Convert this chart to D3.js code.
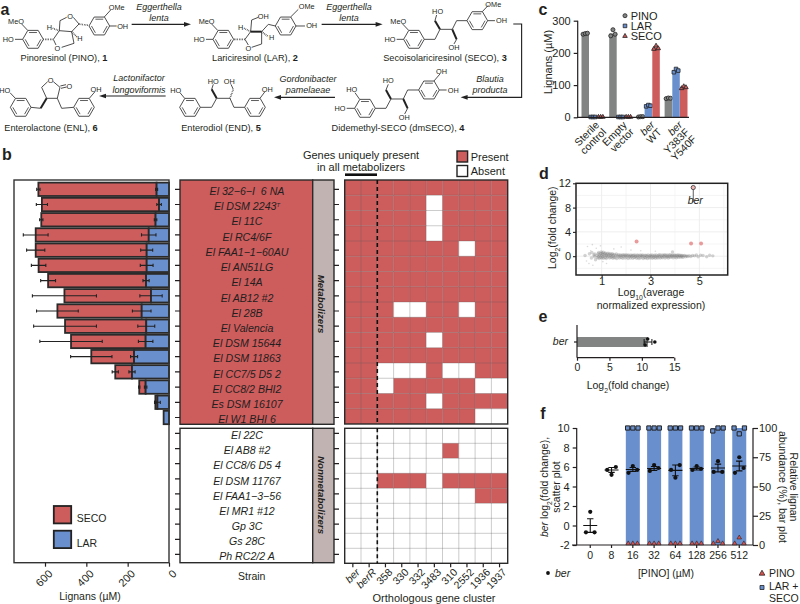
<!DOCTYPE html>
<html>
<head>
<meta charset="utf-8">
<script src="https://cdn.jsdelivr.net/npm/d3@7/dist/d3.min.js"></script>
<style>
  html, body { margin: 0; padding: 0; background: #fff; }
  svg { display: block; }
  text { font-family: "Liberation Sans", Arial, sans-serif; fill: #231f20; }
</style>
</head>
<body>
<div id="container"></div>
<script>
// panel b
const metaStrains = ["El 32−6−I  6 NA", "El DSM 2243", "El 11C", "El RC4/6F", "El FAA1−1−60AU", "El AN51LG", "El 14A", "El AB12 #2", "El 28B", "El Valencia", "El DSM 15644", "El DSM 11863", "El CC7/5 D5 2", "El CC8/2 BHI2", "Es DSM 16107", "El W1 BHI 6"];
const nonStrains = ["El 22C", "El AB8 #2", "El CC8/6 D5 4", "El DSM 11767", "El FAA1−3−56", "El MR1 #12", "Gp 3C", "Gs 28C", "Ph RC2/2 A"];
const larValues = [60, 48, 65, 98, 108, 108, 111, 87, 132, 110, 113, 169, 179, 113, 56, 26];
const secoValues = [572, 567, 553, 547, 537, 523, 474, 419, 408, 393, 361, 207, 81, 31, 10, 0];
const larErr = [5, 11, 6, 35, 29, 31, 15, 54, 45, 41, 35, 17, 15, 6, 14, 0];
const secoErr = [8, 27, 8, 60, 44, 35, 36, 155, 101, 152, 151, 100, 15, 3, 3, 0];
const clusters = ["ber", "berR", "358", "330", "332", "3483", "310", "2552", "1936", "1937"];
// one string per strain, 1 = present
const metaMatrix = ["1111111111", "1111101111", "1111101111", "1111101111", "1111111011", "1111111111", "1111111111", "1111111111", "1110011011", "1111111111", "1111101111", "1111111111", "1100010011", "1101111100", "1111101111", "1111111100"];
const nonMatrix = ["0000000000", "0000001000", "0000000000", "0011101111", "0000000011", "0000000000", "0000000000", "0000000000", "0000000000"];
const barTicks = [0, 200, 400, 600];

// panel c
const cGroups = [["Sterile", "control"], ["Empty", "vector"], ["ber", "WT"], ["ber", "Y383F", "Y540F"]];
const cSeries = ["PINO", "LAR", "SECO"];
const cPino = [259, 260, 2, 59];
const cLar = [1, 1, 36, 145];
const cSeco = [1, 1, 216, 92];
const cPinoPts = [[258, 260, 261], [253, 272, 258], [1, 2, 2], [58, 60, 59]];
const cLarPts = [[1, 1, 1], [1, 1, 1], [34, 38, 36], [140, 150, 145]];
const cSecoPts = [[1, 1, 1], [1, 1, 1], [212, 222, 214], [90, 96, 93]];

// panel d, log10 expression and log2 fold change per gene
const maPoints = [[0.32, 0.1], [0.38, -0.8], [0.42, 1.6], [0.48, -1.2], [0.5, 0.4], [0.55, 0.9], [0.58, -0.3], [0.62, 1.9], [0.64, -1.5], [0.68, 0.2], [0.7, -0.1], [0.72, 0.35], [0.75, -0.6], [0.78, 1.3], [0.8, 0.1], [0.82, -0.25],
  [0.85, 0.4], [0.86, -0.1], [0.88, 0.6], [0.9, -0.4], [0.91, 0.2], [0.93, 0.05], [0.95, -0.2], [0.96, 0.45], [0.98, 0.7], [1, -0.3], [1.01, 0.15], [1.02, 0.5], [1.04, -0.1], [1.05, 0.3], [1.07, 0.65], [1.08, -0.35],
  [1.1, 0.05], [1.12, 0.4], [1.14, -0.2], [1.15, 0.55], [1.17, 0.2], [1.19, -0.4], [1.2, 0.1], [1.22, 0.35], [1.24, -0.15], [1.26, 0.5], [1.28, 0], [1.3, 0.25], [1.32, -0.3], [1.34, 0.45], [1.36, 0.1], [1.38, -0.2],
  [1.4, 0.3], [1.42, -0.05], [1.44, 0.4], [1.46, -0.35], [1.48, 0.15], [1.5, -0.15], [1.52, 0.3], [1.55, -0.25], [1.57, 0.05], [1.6, 0.35], [1.62, -0.4], [1.65, 0.1], [1.68, -0.1], [1.7, 0.25], [1.73, -0.3], [1.76, 0.05],
  [1.78, 0.2], [1.8, -0.2], [1.83, 0.1], [1.86, -0.35], [1.88, 0.25], [1.9, -0.05], [1.93, 0.15], [1.96, -0.3], [1.98, 0.05], [2, 0.25], [2.03, -0.15], [2.06, 0.1], [2.08, -0.4], [2.1, 0.2], [2.13, -0.1], [2.16, 0.05],
  [2.18, -0.3], [2.2, 0.2], [2.23, -0.05], [2.26, 0.1], [2.28, -0.35], [2.3, 0.15], [2.33, -0.2], [2.36, 0.2], [2.38, -0.1], [2.4, 0.05], [2.43, -0.35], [2.46, 0.2], [2.48, -0.15], [2.5, 0.1], [2.53, -0.4], [2.56, 0],
  [2.58, 0.2], [2.6, -0.25], [2.63, 0.1], [2.66, -0.1], [2.68, 0.2], [2.7, -0.4], [2.73, 0.05], [2.76, -0.2], [2.78, 0.15], [2.8, -0.3], [2.83, 0.1], [2.86, -0.05], [2.88, -0.4], [2.9, 0.2], [2.93, -0.15], [2.96, 0.05],
  [2.98, -0.3], [3, 0.15], [3.03, -0.1], [3.06, 0.2], [3.08, -0.35], [3.1, 0.05], [3.13, -0.2], [3.16, 0.15], [3.18, -0.05], [3.2, -0.35], [3.23, 0.2], [3.26, -0.15], [3.28, 0.05], [3.3, -0.3], [3.33, 0.15], [3.36, -0.1],
  [3.38, 0.25], [3.4, -0.3], [3.43, 0.05], [3.46, -0.15], [3.48, 0.2], [3.5, -0.25], [3.53, 0.1], [3.56, -0.05], [3.58, 0.25], [3.6, -0.3], [3.63, 0.1], [3.66, -0.15], [3.68, 0.2], [3.7, -0.05], [3.73, -0.3], [3.76, 0.15],
  [3.78, -0.1], [3.8, 0.25], [3.83, -0.2], [3.86, 0.1], [3.88, -0.05], [3.9, 0.2], [3.93, -0.25], [3.96, 0.05], [3.98, 0.2], [4, -0.15], [4.03, 0.1], [4.06, -0.25], [4.08, 0.15], [4.1, -0.05], [4.13, 0.2], [4.16, -0.2],
  [4.18, 0.05], [4.2, 0.15], [4.23, -0.15], [4.26, 0.1], [4.28, -0.1], [4.3, 0.1], [4.33, -0.2], [4.36, 0.05], [4.4, 0.1], [4.44, -0.1], [4.48, 0.05], [4.52, -0.05], [4.58, 0.08], [4.65, -0.05], [4.72, 0.1], [4.8, 0.05],
  [4.88, 0.2], [4.95, -0.1], [5.05, 0.15], [5.15, 0.1], [5.3, -0.1], [5.42, 0.15], [5.55, 0.05], [1.5, 1.2], [1.8, 1.5], [2.2, 1], [0.95, 1.7], [1.2, -1.2], [0.6, 0.6], [2.6, 0.9], [3.2, 0.8], [3.9, 0.7], [1.05, -0.9]];
const maHits = [[2.43, 2.4], [4.66, 2.1], [5.07, 2.1]];
const maBer = [4.75, 11.3];

// panel e
const eMean = 10.95;
const eErr = 0.6;
const ePts = [10.5, 10.9, 12];

// panel f
const fConc = [0, 8, 16, 32, 64, 128, 256, 512];
const fMean = [0, 5.7, 5.75, 5.85, 5.65, 5.85, 5.9, 6.1];
const fErr = [0.7, 0.25, 0.2, 0.2, 0.55, 0.15, 0.4, 0.5];
const fBer = [[-0.7, 1.4, -0.7], [5.7, 5.2, 6], [5.4, 6.1, 5.7], [5.6, 6.2, 5.9], [5.7, 4.9, 6.2], [5.7, 6.1, 5.8], [5.5, 6.6, 5.5], [5.4, 7, 5.9]];
const fBar = [null, null, 100, 100, 100, 100, 100, 100];
const fLarSeco = [null, null, [100, 100, 100], [100, 100, 100], [100, 100, 100], [100, 100, 100], [97.5, 100, 100], [100, 95, 100]];
const fPinoPts = [null, null, [0, 0, 0], [0, 0, 0], [0, 0, 0], [0, 0, 0], [0, 2, 0], [0, 5, 0]];

const red = "#cd5c5c";
const blue = "#6a8fcd";
const gray = "#828483";
const ink = "#231f20";

const viz = d3.select("#container").append("svg")
  .attr("width", 800)
  .attr("height", 604);

// text helper, pieces can be plain strings or {t, i, b, sub, sup}
function label(parent, x, y, pieces, opt) {
  opt = opt || {};
  const t = parent.append("text")
    .attr("x", x)
    .attr("y", y)
    .attr("dy", "0.35em")
    .attr("text-anchor", opt.anchor || "middle")
    .style("font-size", (opt.size || 11) + "px")
    .attr("xml:space", "preserve");
  if (opt.rotate !== undefined) t.attr("transform", "rotate(" + opt.rotate + " " + x + " " + y + ")");
  if (opt.bold) t.style("font-weight", "bold");
  if (opt.italic) t.style("font-style", "italic");
  [].concat(pieces).forEach(function(p) {
    if (typeof p === "string") p = {t: p};
    const s = t.append("tspan").text(p.t);
    if (p.i) s.style("font-style", "italic");
    if (p.b) s.style("font-weight", "bold");
    if (p.sub) s.attr("baseline-shift", "sub").style("font-size", "65%");
    if (p.sup) s.attr("baseline-shift", "super").style("font-size", "55%");
  });
  return t;
}

function styleAxis(g, width, size) {
  g.selectAll(".domain").attr("stroke", ink).attr("stroke-width", width);
  g.selectAll(".tick line").attr("stroke", ink).attr("stroke-width", width);
  g.selectAll(".tick text").style("font-size", (size || 11) + "px").attr("fill", ink);
}

function slant(g, dx, dy) {
  g.selectAll(".tick text")
    .attr("x", 0).attr("y", 0).attr("dy", "0.35em")
    .attr("text-anchor", "end")
    .attr("transform", "translate(" + dx + "," + dy + ") rotate(-45)");
}

// panel letters
[["a", 5, 9], ["b", 7, 154], ["c", 543, 9], ["d", 544, 173], ["e", 543, 316], ["f", 543, 413]].forEach(function(d) {
  label(viz, d[1], d[2], d[0], {size: 16, bold: true});
});

/* ---------- panel a ---------- */
// drawn in crop units, three times the page size
const chem = viz.append("g").attr("class", "chem").attr("transform", "scale(0.3333)");

const rings = [[99, 118], [298, 78], [670, 118], [857, 78], [1242, 118], [1432, 62], [1095, 325], [1287, 270], [570, 322], [765, 322], [62, 322], [252, 322]];
const plainBonds = [
  [[83, 91], [65, 72]], [[68, 118], [45, 118]], [[313, 51], [332, 30]], [[329, 78], [350, 78]],
  [[160, 118], [178, 92], [215, 95], [222, 130], [185, 142]], [[160, 118], [168, 135]], [[178, 92], [180, 62], [200, 52]], [[220, 52], [237, 72], [215, 95]],
  [[653, 91], [635, 72]], [[639, 118], [618, 118]], [[872, 51], [895, 28]], [[888, 78], [915, 78]], [[826, 78], [805, 73], [785, 95], [785, 132], [755, 142]], [[735, 118], [745, 135]], [[735, 118], [752, 95], [755, 60], [775, 52]],
  [[1226, 91], [1208, 72]], [[1211, 118], [1190, 118]], [[1273, 118], [1305, 118], [1320, 88], [1357, 88]], [[1305, 62], [1310, 45]], [[1401, 62], [1370, 62], [1357, 88]], [[1370, 118], [1362, 132]], [[1447, 35], [1465, 16]], [[1463, 62], [1485, 62]],
  [[1079, 298], [1065, 278]], [[1064, 325], [1040, 325]], [[1126, 325], [1158, 325], [1173, 297], [1210, 297], [1223, 270], [1256, 270]], [[1158, 270], [1165, 253]], [[1223, 325], [1214, 342]], [[1302, 243], [1320, 222]], [[1318, 270], [1340, 270]],
  [[554, 295], [540, 278]], [[601, 322], [635, 322], [650, 295], [690, 295], [702, 322], [734, 322]], [[635, 268], [640, 253]], [[700, 268], [693, 253]], [[780, 295], [795, 275]],
  [[46, 295], [30, 278]], [[93, 322], [122, 325]], [[140, 295], [125, 262], [143, 245]], [[160, 245], [180, 262], [172, 295], [140, 295]], [[172, 295], [185, 325], [221, 322]], [[181, 258], [198, 254]], [[183, 265], [200, 261]], [[268, 295], [285, 275]]
];
const boldBonds = [[[752, 95], [785, 95]], [[1320, 88], [1305, 62]], [[1357, 88], [1370, 118]], [[1173, 297], [1158, 270]], [[1210, 297], [1223, 325]], [[650, 295], [635, 268]], [[122, 325], [140, 295]]];
const hashBonds = [[[130, 118], [160, 118]], [[237, 72], [265, 76]], [[158, 85], [178, 92]], [[215, 95], [232, 112]], [[702, 118], [735, 118]], [[732, 85], [752, 95]], [[785, 95], [805, 110]], [[690, 295], [700, 268]]];
const atomLabels = [
  ["MeO", 48, 63], ["HO", 25, 118], ["OMe", 350, 22], ["OH", 368, 78], ["O", 210, 50], ["O", 172, 145], ["H", 148, 83], ["H", 240, 115],
  ["MeO", 620, 63], ["HO", 598, 118], ["OH", 790, 50], ["OMe", 920, 20], ["OH", 935, 75], ["O", 745, 145], ["H", 722, 83], ["H", 815, 112],
  ["MeO", 1195, 63], ["HO", 1170, 118], ["HO", 1313, 35], ["OH", 1362, 142], ["OMe", 1480, 13], ["OH", 1505, 62],
  ["HO", 1055, 268], ["HO", 1020, 325], ["HO", 1165, 242], ["OH", 1213, 352], ["OH", 1325, 213], ["OH", 1360, 270],
  ["HO", 527, 270], ["HO", 640, 243], ["OH", 688, 243], ["OH", 802, 268],
  ["HO", 14, 270], ["O", 152, 240], ["O", 208, 258], ["OH", 288, 268]
];
const compounds = [
  [64, 58, "Pinoresinol (PINO), ", "1"], [255, 58, "Lariciresinol (LAR), ", "2"], [445, 58, "Secoisolariciresinol (SECO), ", "3"],
  [398, 127.5, "Didemethyl-SECO (dmSECO), ", "4"], [221, 127.5, "Enterodiol (END), ", "5"], [51, 127.5, "Enterolactone (ENL), ", "6"]
];
const microbes = [
  [159, 7, 18, "Eggerthella", "lenta"], [349, 7, 18, "Eggerthella", "lenta"], [490, 79, 90, "Blautia", "producta"],
  [308, 79, 90, "Gordonibacter", "pamelaeae"], [139, 78, 90, "Lactonifactor", "longoviformis"]
];
const arrows = [
  [[395, 73], [555, 73]], [[965, 73], [1130, 73]],
  [[1540, 72], [1565, 72], [1565, 292], [1400, 292]], [[1005, 292], [840, 292]], [[497, 288], [315, 288]]
];

const chemLine = d3.line();
rings.forEach(function(c) {
  const pts = d3.range(6).map(function(i) {
    const a = i * Math.PI / 3;
    return [c[0] + 31 * Math.cos(a), c[1] + 31 * Math.sin(a)];
  });
  chem.append("path").attr("d", chemLine(pts) + "Z").attr("fill", "none").attr("stroke", "#333").attr("stroke-width", 2.6);
  [0, 2, 4].forEach(function(i) {
    const p = pts[i], q = pts[(i + 1) % 6];
    const inset = function(v) { return [c[0] + (v[0] - c[0]) * 0.76, c[1] + (v[1] - c[1]) * 0.76]; };
    chem.append("path").attr("d", chemLine([inset(p), inset(q)])).attr("stroke", "#333").attr("stroke-width", 2.4);
  });
});
plainBonds.forEach(function(b) {
  chem.append("path").attr("d", chemLine(b)).attr("fill", "none").attr("stroke", "#333").attr("stroke-width", 2.6);
});
boldBonds.forEach(function(b) {
  chem.append("path").attr("d", chemLine(b)).attr("fill", "none").attr("stroke", "#222").attr("stroke-width", 6);
});
hashBonds.forEach(function(b) {
  chem.append("path").attr("d", chemLine(b)).attr("fill", "none").attr("stroke", "#333").attr("stroke-width", 5).attr("stroke-dasharray", "2 3");
});
atomLabels.forEach(function(a) {
  label(chem, a[1], a[2], a[0], {size: 22});
});
arrows.forEach(function(a) {
  chem.append("path").attr("d", chemLine(a)).attr("fill", "none").attr("stroke", "#222").attr("stroke-width", 3.4);
  const p = a[a.length - 1], q = a[a.length - 2];
  const dir = p[0] > q[0] ? 1 : -1;
  chem.append("path").attr("d", chemLine([[p[0] + dir * 18, p[1]], [p[0] - dir * 3, p[1] - 7], [p[0] - dir * 3, p[1] + 7]]) + "Z").attr("fill", "#222");
});
compounds.forEach(function(c) {
  label(viz, c[0], c[1], [c[2], {t: c[3], b: true}], {size: 9.2});
});
microbes.forEach(function(m) {
  label(viz, m[0], m[1], m[3], {size: 9, italic: true});
  label(viz, m[0], m[2], m[4], {size: 9, italic: true});
});

/* ---------- panel b ---------- */
const barX = d3.scaleLinear().domain([0, 750]).range([169, 14]);
const metaY = d3.scalePoint().domain(metaStrains).range([181.7, 425.1]).padding(0.5);
const nonY = d3.scalePoint().domain(nonStrains).range([425.9, 562]).padding(0.5);
const heatMetaY = d3.scaleBand().domain(metaStrains).range([180, 424]);
const heatNonY = d3.scaleBand().domain(nonStrains).range([428.3, 563.3]);
const heatX = d3.scaleBand().domain(clusters).range([344.7, 507.7]);

const barG = viz.append("g").attr("class", "bars");
metaStrains.forEach(function(s, i) {
  const y = metaY(s);
  const lar = larValues[i], seco = secoValues[i];
  barG.append("rect").attr("x", barX(lar + seco)).attr("y", y - 6.7)
    .attr("width", barX(lar) - barX(lar + seco)).attr("height", 13.4)
    .attr("fill", red).attr("stroke", "#2a2a2a").attr("stroke-width", 1.8);
  barG.append("rect").attr("x", barX(lar)).attr("y", y - 6.7)
    .attr("width", barX(0) - barX(lar)).attr("height", 13.4)
    .attr("fill", blue).attr("stroke", "#2a2a2a").attr("stroke-width", 1.8);
  [[lar, larErr[i]], [lar + seco, secoErr[i]]].forEach(function(e) {
    if (e[1] === 0) return;
    const x0 = barX(e[0] + e[1]), x1 = barX(e[0] - e[1]);
    barG.append("path")
      .attr("d", "M" + x0 + "," + y + "H" + x1 + "M" + x0 + "," + (y - 1.6) + "V" + (y + 1.6) + "M" + x1 + "," + (y - 1.6) + "V" + (y + 1.6))
      .attr("fill", "none").attr("stroke", "#222").attr("stroke-width", 1.1);
  });
});
viz.append("rect").attr("x", 14).attr("y", 180).attr("width", 155).attr("height", 382.7)
  .attr("fill", "none").attr("stroke", "#333").attr("stroke-width", 1.4);
const barAxis = viz.append("g").attr("transform", "translate(0,562.7)")
  .call(d3.axisBottom(barX).tickValues(barTicks).tickSize(4).tickFormat(d3.format("d")));
barAxis.select(".domain").remove();
styleAxis(barAxis, 1.2);
slant(barAxis, 5, 9);
label(viz, 90, 596.5, "Lignans (µM)", {size: 10.5});
label(viz, 251.7, 576.7, "Strain", {size: 10.5});
label(viz, 434, 598, "Orthologous gene cluster", {size: 11});

// bar legend
[["SECO", red, 506, 518], ["LAR", blue, 530.7, 543.3]].forEach(function(d) {
  viz.append("rect").attr("x", 53.8).attr("y", d[2]).attr("width", 17.4).attr("height", 17.4)
    .attr("fill", d[1]).attr("stroke", "#222").attr("stroke-width", 1.8);
  label(viz, 76.7, d[3], d[0], {anchor: "start", size: 10.5});
});

// strain panels
function strainPanel(strains, yScale, top, bottom, fill, name, nameY) {
  const g = viz.append("g").attr("class", "strains");
  g.append("rect").attr("x", 180).attr("y", top).attr("width", 132.7).attr("height", bottom - top)
    .attr("fill", fill).attr("stroke", "#2a2a2a").attr("stroke-width", 1.4);
  g.append("rect").attr("x", 312.7).attr("y", top).attr("width", 21.3).attr("height", bottom - top)
    .attr("fill", "#c2b3b3").attr("stroke", "#2a2a2a").attr("stroke-width", 1.4);
  strains.forEach(function(s) {
    const y = yScale(s);
    g.append("path").attr("d", "M175," + y + "H180M334," + y + "H339").attr("stroke", ink).attr("stroke-width", 1.2);
    const pieces = s === "El DSM 2243" ? [s, {t: "T", sup: true}] : s;
    label(g, 247, y + 2, pieces, {size: 10.6, italic: true});
  });
  label(g, 321, nameY, name, {size: 9.7, bold: true, italic: true, rotate: 90});
}
strainPanel(metaStrains, metaY, 180, 424.3, red, "Metabolizers", 304);
strainPanel(nonStrains, nonY, 428.3, 562.7, "#fff", "Nonmetabolizers", 495);

// heatmaps
function heatmap(strains, matrix, yScale) {
  const g = viz.append("g").attr("class", "heat");
  strains.forEach(function(s, i) {
    clusters.forEach(function(c, j) {
      g.append("rect").attr("x", heatX(c)).attr("y", yScale(s))
        .attr("width", heatX.bandwidth()).attr("height", yScale.bandwidth())
        .attr("fill", matrix[i][j] === "1" ? red : "#fff");
    });
  });
  // grid goes over the tiles
  clusters.slice(1).forEach(function(c) {
    g.append("line").attr("x1", heatX(c)).attr("x2", heatX(c))
      .attr("y1", yScale.range()[0]).attr("y2", yScale.range()[1])
      .attr("stroke", "#555").attr("stroke-opacity", 0.3);
  });
  strains.slice(1).forEach(function(s) {
    g.append("line").attr("x1", heatX.range()[0]).attr("x2", heatX.range()[1])
      .attr("y1", yScale(s)).attr("y2", yScale(s))
      .attr("stroke", "#555").attr("stroke-opacity", 0.3);
  });
  g.append("rect").attr("x", heatX.range()[0]).attr("y", yScale.range()[0])
    .attr("width", heatX.range()[1] - heatX.range()[0]).attr("height", yScale.range()[1] - yScale.range()[0])
    .attr("fill", "none").attr("stroke", "#2a2a2a").attr("stroke-width", 1.4);
  g.append("line").attr("x1", heatX("358")).attr("x2", heatX("358"))
    .attr("y1", yScale.range()[0]).attr("y2", yScale.range()[1])
    .attr("stroke", "#111").attr("stroke-width", 1.6).attr("stroke-dasharray", "4 3");
}
heatmap(metaStrains, metaMatrix, heatMetaY);
heatmap(nonStrains, nonMatrix, heatNonY);

const heatAxis = viz.append("g").attr("transform", "translate(0,563.3)")
  .call(d3.axisBottom(heatX).tickSize(4));
heatAxis.select(".domain").remove();
styleAxis(heatAxis, 1.2, 10.5);
slant(heatAxis, 5, 7);
heatAxis.selectAll(".tick text").style("font-style", function(d) { return d.startsWith("ber") ? "italic" : "normal"; });

// header above the heatmap
label(viz, 361, 155.5, "Genes uniquely present", {size: 11});
label(viz, 361, 167, "in all metabolizers", {size: 11});
viz.append("rect").attr("x", 345).attr("y", 173.4).attr("width", 32).attr("height", 2.6).attr("fill", "#111");
[["Present", red, 151, 156.8], ["Absent", "#fff", 165.5, 171]].forEach(function(d) {
  viz.append("rect").attr("x", 457).attr("y", d[2]).attr("width", 10.6).attr("height", 11)
    .attr("fill", d[1]).attr("stroke", "#222").attr("stroke-width", 1.4);
  label(viz, 470.7, d[3], d[0], {anchor: "start", size: 11});
});

/* ---------- panel c ---------- */
const cX = d3.scaleBand().domain(d3.range(4)).range([581.4, 692.2]);
const cSub = d3.scaleBand().domain(cSeries).range([0, 23.1]);
const cY = d3.scaleLinear().domain([0, 300]).range([117.3, 20.7]);
const cColor = d3.scaleOrdinal().domain(cSeries).range([gray, blue, red]);
const cShape = d3.scaleOrdinal().domain(cSeries).range([d3.symbolCircle, d3.symbolSquare, d3.symbolTriangle]);
const cSize = d3.scaleOrdinal().domain(cSeries).range([13, 13, 9]);
const cBars = [cPino, cLar, cSeco];
const cDots = [cPinoPts, cLarPts, cSecoPts];
const cG = viz.append("g").attr("class", "panel-c");

cSeries.forEach(function(name, k) {
  cBars[k].forEach(function(v, i) {
    cG.append("rect").attr("x", cX(i) + cSub(name) + 0.1).attr("y", cY(v))
      .attr("width", cSub.bandwidth() - 0.2).attr("height", cY(0) - cY(v))
      .attr("fill", cColor(name));
    const cx = cX(i) + cSub(name) + cSub.bandwidth() / 2;
    cDots[k][i].forEach(function(p, n) {
      cG.append("path")
        .attr("d", d3.symbol().type(cShape(name)).size(cSize(name))())
        .attr("transform", "translate(" + (cx + (n - 1) * 2.2) + "," + cY(p) + ")")
        .attr("fill", cColor(name)).attr("stroke", "#222").attr("stroke-width", 0.8);
    });
  });
});
const cAxisY = cG.append("g").attr("transform", "translate(577.7,0)")
  .call(d3.axisLeft(cY).tickValues([0, 100, 200, 300]).tickSize(4));
styleAxis(cAxisY, 1.2, 11);
cAxisY.select(".domain").attr("d", "M0,20.7V117.3");
cG.append("line").attr("x1", 577).attr("x2", 689).attr("y1", 117.3).attr("y2", 117.3).attr("stroke", ink).attr("stroke-width", 1.3);
cGroups.forEach(function(lines, i) {
  const t = cG.append("text")
    .attr("transform", "translate(" + (cX(i) + cX.bandwidth() / 2 + 2) + ",123) rotate(-45)")
    .attr("text-anchor", "end").style("font-size", "10.5px");
  lines.forEach(function(l, n) {
    t.append("tspan").attr("x", 0).attr("dy", n === 0 ? "0.35em" : "0.95em")
      .style("font-style", l === "ber" ? "italic" : "normal").text(l);
  });
});
label(cG, 548, 62, "Lignans (µM)", {size: 11, rotate: -90});
cSeries.forEach(function(name, k) {
  const y = 15.7 + k * 10.2;
  cG.append("path").attr("d", d3.symbol().type(cShape(name)).size(cSize(name))())
    .attr("transform", "translate(625," + y + ")")
    .attr("fill", cColor(name)).attr("stroke", "#222").attr("stroke-width", 0.8);
  label(cG, 630.7, y, name, {anchor: "start", size: 11});
});

/* ---------- panel d ---------- */
const dX = d3.scaleLinear().domain([-0.05, 6.16]).range([576, 727.7]);
const dY = d3.scaleLinear().domain([-3.1, 12]).range([275, 183.3]);
const dG = viz.append("g").attr("class", "panel-d");

[1, 2, 3, 4, 5, 6].forEach(function(v) {
  dG.append("line").attr("x1", dX(v)).attr("x2", dX(v)).attr("y1", 183.3).attr("y2", 275)
    .attr("stroke", "#eee").attr("stroke-width", v % 2 ? 1 : 0.6);
});
[-2, 0, 2, 4, 6, 8, 10].forEach(function(v) {
  dG.append("line").attr("x1", 576).attr("x2", 727.7).attr("y1", dY(v)).attr("y2", dY(v))
    .attr("stroke", "#eee").attr("stroke-width", v % 4 ? 0.6 : 1);
});
dG.selectAll("circle.gene").data(maPoints).enter().append("circle")
  .attr("class", "gene")
  .attr("cx", function(d) { return dX(d[0]); })
  .attr("cy", function(d) { return dY(d[1]); })
  .attr("r", function(d) { return Math.abs(d[1]) > 0.7 ? 0.8 : 1.7; })
  .attr("fill", "#6f6f6f")
  .attr("fill-opacity", function(d) { return Math.abs(d[1]) > 0.7 ? 0.25 : 0.3; });
dG.selectAll("circle.hit").data(maHits).enter().append("circle")
  .attr("class", "hit")
  .attr("cx", function(d) { return dX(d[0]); })
  .attr("cy", function(d) { return dY(d[1]); })
  .attr("r", 2).attr("fill", "#e99a9a");
dG.append("line").attr("x1", dX(maBer[0])).attr("x2", dX(maBer[0])).attr("y1", dY(maBer[1])).attr("y2", dY(8.9))
  .attr("stroke", "#333").attr("stroke-width", 0.8);
dG.append("circle").attr("cx", dX(maBer[0])).attr("cy", dY(maBer[1])).attr("r", 2.1)
  .attr("fill", "#f0b4b4").attr("stroke", "#333").attr("stroke-width", 0.8);
label(dG, dX(maBer[0]) + 2, 200.5, "ber", {size: 10.5, italic: true});
dG.append("rect").attr("x", 576).attr("y", 183.3).attr("width", 151.7).attr("height", 91.7)
  .attr("fill", "none").attr("stroke", "#222").attr("stroke-width", 1.5);
const dAxisX = dG.append("g").attr("transform", "translate(0,275)")
  .call(d3.axisBottom(dX).tickValues([1, 3, 5]).tickSize(2).tickPadding(0).tickFormat(d3.format("d")));
dAxisX.select(".domain").remove();
styleAxis(dAxisX, 1.1, 11);
const dAxisY = dG.append("g").attr("transform", "translate(576,0)")
  .call(d3.axisLeft(dY).tickValues([0, 4, 8, 12]).tickSize(3).tickPadding(2));
dAxisY.select(".domain").remove();
styleAxis(dAxisY, 1.1, 11);
label(dG, 552.7, 227.7, ["Log", {t: "2", sub: true}, "(fold change)"], {size: 10.5, rotate: -90});
label(dG, 651, 292.5, ["Log", {t: "10", sub: true}, "(average"], {size: 10.5});
label(dG, 651, 305, "normalized expression)", {size: 10.5});

/* ---------- panel e ---------- */
const eX = d3.scaleLinear().domain([0, 15]).range([577, 674.3]);
const eG = viz.append("g").attr("class", "panel-e");
eG.append("rect").attr("x", eX(0)).attr("y", 337).attr("width", eX(eMean) - eX(0)).attr("height", 10).attr("fill", gray);
eG.append("path")
  .attr("d", "M" + eX(eMean - eErr) + ",342H" + eX(eMean + eErr) + "M" + eX(eMean - eErr) + ",339V345M" + eX(eMean + eErr) + ",339V345")
  .attr("fill", "none").attr("stroke", "#111").attr("stroke-width", 1);
ePts.forEach(function(v, i) {
  eG.append("circle").attr("cx", eX(v)).attr("cy", [345, 339, 342][i]).attr("r", 1.8).attr("fill", "#111");
});
const eAxis = eG.append("g").attr("transform", "translate(0,357.7)")
  .call(d3.axisBottom(eX).tickValues([0, 5, 10, 15]).tickSize(3));
styleAxis(eAxis, 1.2, 10.5);
eAxis.select(".domain").attr("d", "M" + eX(0) + ",0H" + eX(15));
eG.append("line").attr("x1", 577).attr("x2", 577).attr("y1", 325).attr("y2", 357.7).attr("stroke", ink).attr("stroke-width", 1.2);
eG.append("line").attr("x1", 574).attr("x2", 577).attr("y1", 342).attr("y2", 342).attr("stroke", ink).attr("stroke-width", 1.2);
label(eG, 568, 341.5, "ber", {anchor: "end", size: 10.5, italic: true});
label(eG, 628, 385.7, ["Log", {t: "2", sub: true}, "(fold change)"], {size: 10.5});

/* ---------- panel f ---------- */
const fX = d3.scaleBand().domain(fConc).range([579.6, 749.9]);
const fCx = function(c) { return fX(c) + fX.bandwidth() / 2; };
const fY = d3.scaleLinear().domain([-2, 10]).range([545, 428]);
const fY2 = d3.scaleLinear().domain([0, 100]).range([545, 428]);
const fG = viz.append("g").attr("class", "panel-f");

fConc.forEach(function(c, i) {
  if (fBar[i] !== null) {
    fG.append("rect").attr("x", fCx(c) - 7).attr("y", fY2(fBar[i])).attr("width", 14)
      .attr("height", fY2(0) - fY2(fBar[i])).attr("fill", blue);
    fLarSeco[i].forEach(function(v, n) {
      fG.append("path").attr("d", d3.symbol().type(d3.symbolSquare).size(18)())
        .attr("transform", "translate(" + (fCx(c) + (n - 1) * 5.2) + "," + fY2(v) + ")")
        .attr("fill", blue).attr("stroke", "#222").attr("stroke-width", 1);
    });
  }
});
const fAxisL = fG.append("g").attr("transform", "translate(576.7,0)")
  .call(d3.axisLeft(fY).tickValues([-2, 0, 2, 4, 6, 8, 10]).tickSize(4).tickFormat(function(d) { return String(d); }));
styleAxis(fAxisL, 1.2, 11);
fAxisL.select(".domain").attr("d", "M0,428V545");
const fAxisR = fG.append("g").attr("transform", "translate(753,0)")
  .call(d3.axisRight(fY2).tickValues([0, 25, 50, 75, 100]).tickSize(5).tickPadding(1));
styleAxis(fAxisR, 1.2, 11);
fAxisR.select(".domain").attr("d", "M0,428V545");
const fAxisB = fG.append("g").attr("transform", "translate(0,545)")
  .call(d3.axisBottom(fX).tickSize(3).tickPadding(4));
styleAxis(fAxisB, 1.2, 10.5);
fAxisB.select(".domain").attr("d", "M572,0H753");

fConc.forEach(function(c, i) {
  const x = fCx(c);
  if (fPinoPts[i] !== null) {
    fPinoPts[i].forEach(function(v, n) {
      fG.append("path").attr("d", d3.symbol().type(d3.symbolTriangle).size(9)())
        .attr("transform", "translate(" + (x + (n - 1) * 4.6) + "," + (fY2(v) - 1.5) + ")")
        .attr("fill", "#e0524c").attr("stroke", "#222").attr("stroke-width", 0.6);
    });
  }
  fG.append("path")
    .attr("d", "M" + (x - 7) + "," + fY(fMean[i]) + "H" + (x + 7)
      + "M" + x + "," + fY(fMean[i] - fErr[i]) + "V" + fY(fMean[i] + fErr[i])
      + "M" + (x - 3.2) + "," + fY(fMean[i] - fErr[i]) + "H" + (x + 3.2)
      + "M" + (x - 3.2) + "," + fY(fMean[i] + fErr[i]) + "H" + (x + 3.2))
    .attr("fill", "none").attr("stroke", "#111").attr("stroke-width", 1.1);
  fBer[i].forEach(function(v, n) {
    fG.append("circle").attr("cx", x + (n - 1) * 4.3).attr("cy", fY(v)).attr("r", 2.1).attr("fill", "#111");
  });
});
label(fG, 544, 487, [{t: "ber", i: true}, " log", {t: "2", sub: true}, "(fold change),"], {size: 10.5, rotate: -90});
label(fG, 556, 487, "scatter plot", {size: 10.5, rotate: -90});
label(fG, 794, 487, "Relative lignan", {size: 10.5, rotate: 90});
label(fG, 783, 487, "abundance (%), bar plot", {size: 10.5, rotate: 90});
fG.append("circle").attr("cx", 548).attr("cy", 573).attr("r", 1.9).attr("fill", "#111");
label(fG, 555, 573, "ber", {anchor: "start", size: 10.5, italic: true});
label(fG, 666, 573, "[PINO] (µM)", {size: 10.5});
fG.append("path").attr("d", d3.symbol().type(d3.symbolTriangle).size(14)())
  .attr("transform", "translate(762,573.5)").attr("fill", "#e0524c").attr("stroke", "#222").attr("stroke-width", 0.8);
fG.append("path").attr("d", d3.symbol().type(d3.symbolSquare).size(16)())
  .attr("transform", "translate(762,587.5)").attr("fill", blue).attr("stroke", "#222").attr("stroke-width", 0.8);
label(fG, 769, 573, "PINO", {anchor: "start", size: 10.5});
label(fG, 769, 586.5, "LAR +", {anchor: "start", size: 10.5});
label(fG, 769, 598.5, "SECO", {anchor: "start", size: 10.5});
</script>
</body>
</html>
